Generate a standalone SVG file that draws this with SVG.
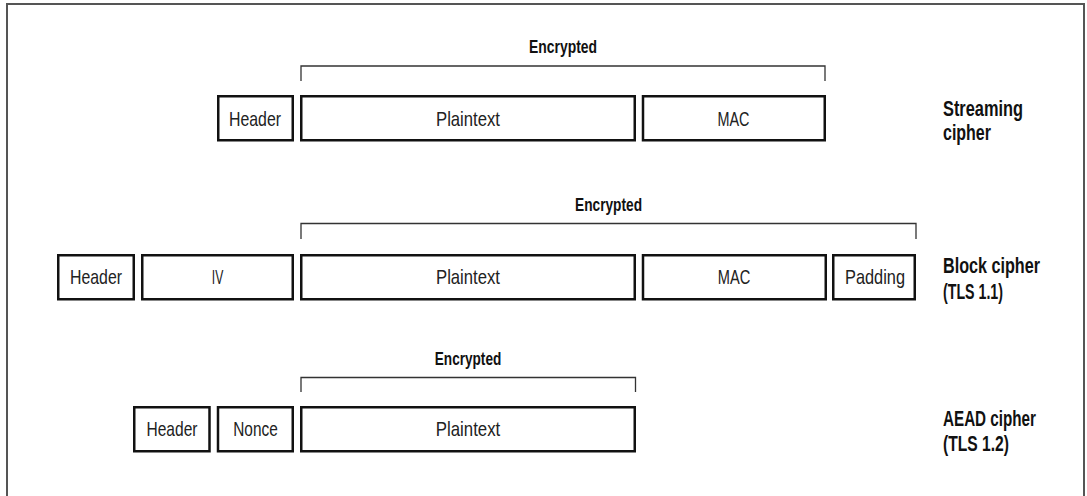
<svg xmlns="http://www.w3.org/2000/svg" width="1087" height="496" viewBox="0 0 1087 496">
<style>
.box{fill:#fff;stroke:#111;stroke-width:2.5}
.lbl{font-family:"Liberation Sans Narrow","Liberation Sans",Arial,sans-serif;font-size:21px;fill:#222;text-anchor:middle}
.enc{font-family:"Liberation Sans Narrow","Liberation Sans",Arial,sans-serif;font-size:17.5px;font-weight:bold;fill:#111;text-anchor:middle}
.side{font-family:"Liberation Sans Narrow","Liberation Sans",Arial,sans-serif;font-size:21.5px;font-weight:bold;fill:#111}
.br{fill:none;stroke:#333;stroke-width:1.3}
.frame{fill:none;stroke:#555;stroke-width:2}
</style>
<rect width="1087" height="496" fill="#fff"/>
<path class="frame" d="M7,496 V4 H1084 V496"/>

<g id="connectors">
<path class="br" d="M301,81 V66 H825 V81"/>
<path class="br" d="M301,239 V223.5 H916 V239"/>
<path class="br" d="M301,392 V377.5 H635.5 V392"/>
</g>

<g id="row1-encrypted"><text class="enc" x="563" y="53" textLength="68" lengthAdjust="spacingAndGlyphs">Encrypted</text></g>
<g id="row1-header"><rect class="box" x="218.25" y="96.25" width="74.5" height="44"/><text class="lbl" x="255" y="125.5" textLength="52" lengthAdjust="spacingAndGlyphs">Header</text></g>
<g id="row1-plaintext"><rect class="box" x="301.25" y="96.25" width="333.5" height="44"/><text class="lbl" x="468" y="125.5" textLength="64" lengthAdjust="spacingAndGlyphs">Plaintext</text></g>
<g id="row1-mac"><rect class="box" x="643" y="96.25" width="181.75" height="44"/><text class="lbl" x="733.5" y="125.5" textLength="32" lengthAdjust="spacingAndGlyphs">MAC</text></g>
<g id="row1-label"><text class="side" x="943" y="116" textLength="80" lengthAdjust="spacingAndGlyphs">Streaming</text><text class="side" x="943" y="140" textLength="48" lengthAdjust="spacingAndGlyphs">cipher</text></g>

<g id="row2-encrypted"><text class="enc" x="608.5" y="211" textLength="67" lengthAdjust="spacingAndGlyphs">Encrypted</text></g>
<g id="row2-header"><rect class="box" x="58.25" y="255.25" width="75.5" height="44"/><text class="lbl" x="96" y="284" textLength="52" lengthAdjust="spacingAndGlyphs">Header</text></g>
<g id="row2-iv"><rect class="box" x="142.25" y="255.25" width="150.5" height="44"/><text class="lbl" x="217.5" y="284" textLength="11.5" lengthAdjust="spacingAndGlyphs">IV</text></g>
<g id="row2-plaintext"><rect class="box" x="301.25" y="255.25" width="333.5" height="44"/><text class="lbl" x="468" y="284" textLength="64" lengthAdjust="spacingAndGlyphs">Plaintext</text></g>
<g id="row2-mac"><rect class="box" x="643" y="255.25" width="182.75" height="44"/><text class="lbl" x="734" y="284" textLength="32.5" lengthAdjust="spacingAndGlyphs">MAC</text></g>
<g id="row2-padding"><rect class="box" x="833.25" y="255.25" width="81.5" height="44"/><text class="lbl" x="875" y="284" textLength="60" lengthAdjust="spacingAndGlyphs">Padding</text></g>
<g id="row2-label"><text class="side" x="943" y="273" textLength="97" lengthAdjust="spacingAndGlyphs">Block cipher</text><text class="side" x="943" y="298.5" textLength="60" lengthAdjust="spacingAndGlyphs">(TLS 1.1)</text></g>

<g id="row3-encrypted"><text class="enc" x="468" y="365" textLength="66.5" lengthAdjust="spacingAndGlyphs">Encrypted</text></g>
<g id="row3-header"><rect class="box" x="134.25" y="407.25" width="75.25" height="44"/><text class="lbl" x="172" y="436" textLength="51" lengthAdjust="spacingAndGlyphs">Header</text></g>
<g id="row3-nonce"><rect class="box" x="218" y="407.25" width="74.75" height="44"/><text class="lbl" x="255.5" y="436" textLength="44.5" lengthAdjust="spacingAndGlyphs">Nonce</text></g>
<g id="row3-plaintext"><rect class="box" x="301.25" y="407.25" width="333.5" height="44"/><text class="lbl" x="468" y="436" textLength="64.5" lengthAdjust="spacingAndGlyphs">Plaintext</text></g>
<g id="row3-label"><text class="side" x="943" y="425.5" textLength="93" lengthAdjust="spacingAndGlyphs">AEAD cipher</text><text class="side" x="943" y="451" textLength="66" lengthAdjust="spacingAndGlyphs">(TLS 1.2)</text></g>
</svg>
